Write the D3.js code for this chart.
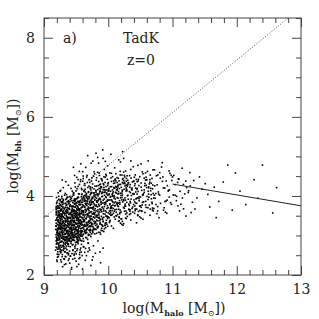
<!DOCTYPE html>
<html>
<head>
<meta charset="utf-8">
<script src="https://cdn.jsdelivr.net/npm/d3@7"></script>
<style>
  body { margin: 0; background: #fff; }
  text { font-family: "DejaVu Serif", "Liberation Serif", serif; fill: #222; }
</style>
</head>
<body>
<script>
// log(M_halo), log(M_bh) pairs
var haloBh = [
  [9.21,3.12],[9.33,2.87],[9.25,3.55],[9.38,3.21],[9.19,2.96],[9.29,3.78],[9.36,3.44],[9.23,2.71],[9.31,3.09],[9.27,3.63],
  [9.35,2.94],[9.22,3.37],[9.39,3.69],[9.26,3.01],[9.32,3.52],[9.2,3.84],[9.37,2.78],[9.24,3.29],[9.3,2.62],[9.34,3.91],
  [9.28,3.17],[9.21,3.46],[9.36,3.05],[9.25,2.83],[9.33,3.71],[9.19,3.23],[9.38,3.36],[9.27,2.95],[9.31,3.58],[9.23,3.99],
  [9.35,3.26],[9.29,2.74],[9.22,3.62],[9.37,3.13],[9.26,3.41],[9.32,2.89],[9.2,3.07],[9.39,3.82],[9.24,3.51],[9.3,3.33],
  [9.34,2.68],[9.28,3.94],[9.21,2.91],[9.36,3.57],[9.25,3.19],[9.33,3.03],[9.19,3.66],[9.38,2.99],[9.27,3.74],[9.31,3.24],
  [9.23,3.15],[9.35,3.48],[9.29,3.86],[9.22,2.79],[9.37,3.31],[9.26,2.58],[9.32,3.67],[9.2,3.39],[9.39,3.11],[9.24,3.7],
  [9.3,2.97],[9.34,3.38],[9.28,2.85],[9.21,3.75],[9.36,3.85],[9.25,3.43],[9.33,3.16],[9.19,2.86],[9.38,2.73],[9.27,3.27],
  [9.31,3.81],[9.23,3.34],[9.35,3.6],[9.29,3.07],[9.22,3.19],[9.37,3.97],[9.26,3.65],[9.32,3.22],[9.2,2.69],[9.39,3.53],
  [9.24,2.92],[9.3,3.47],[9.34,3.14],[9.28,3.55],[9.21,3.28],[9.36,2.83],[9.25,3.88],[9.33,2.77],[9.19,3.52],[9.38,3.45],
  [9.27,3.09],[9.31,2.66],[9.23,3.59],[9.35,3.77],[9.29,3.35],[9.22,3.05],[9.37,3.62],[9.26,3.22],[9.32,4.02],[9.2,3.15],
  [9.39,2.9],[9.24,3.81],[9.3,3.18],[9.34,3.56],[9.28,2.63],[9.21,3.68],[9.36,3.25],[9.25,2.98],[9.33,3.42],[9.19,3.31],
  [9.38,3.88],[9.27,3.49],[9.31,2.93],[9.23,3.24],[9.35,3.1],[9.29,3.61],[9.22,2.88],[9.37,3.4],[9.26,3.77],[9.32,3.3],
  [9.2,3.57],[9.39,3.27],[9.24,3.04],[9.3,3.89],[9.34,2.81],[9.28,3.44],[9.21,3.01],[9.36,3.71],[9.25,3.63],[9.33,2.59],
  [9.19,3.73],[9.38,3.06],[9.27,3.85],[9.31,3.37],[9.23,2.76],[9.35,3.93],[9.29,3.13],[9.22,3.5],[9.37,2.96],[9.26,3.34],
  [9.42,3.21],[9.51,2.94],[9.47,3.63],[9.58,3.35],[9.44,3.02],[9.55,3.79],[9.49,3.47],[9.41,2.85],[9.53,3.14],[9.46,3.88],
  [9.57,3.06],[9.43,3.52],[9.5,3.29],[9.59,3.71],[9.45,2.77],[9.52,3.58],[9.48,3.1],[9.56,2.91],[9.4,3.66],[9.54,3.41],
  [9.47,2.99],[9.58,3.84],[9.44,3.37],[9.51,3.68],[9.42,3.95],[9.55,3.23],[9.49,2.82],[9.46,3.44],[9.53,3.97],[9.41,3.17],
  [9.57,3.55],[9.43,2.93],[9.5,3.76],[9.59,3.12],[9.45,3.6],[9.52,3.04],[9.48,3.33],[9.56,3.49],[9.4,3.27],[9.54,2.87],
  [9.47,3.81],[9.58,2.98],[9.44,3.69],[9.51,3.39],[9.42,3.08],[9.55,4.05],[9.49,3.54],[9.46,3.15],[9.53,2.79],[9.41,3.43],
  [9.57,3.28],[9.43,3.74],[9.5,2.97],[9.59,3.59],[9.45,3.25],[9.52,3.86],[9.48,2.72],[9.56,3.67],[9.4,3.01],[9.54,3.53],
  [9.47,3.36],[9.58,3.18],[9.44,2.89],[9.51,3.13],[9.42,3.57],[9.55,2.95],[9.49,3.92],[9.46,3.62],[9.53,3.31],[9.41,3.78],
  [9.57,3.89],[9.43,3.19],[9.5,3.45],[9.59,2.86],[9.45,3.48],[9.52,3.22],[9.48,3.72],[9.56,3.11],[9.4,2.92],[9.54,3.65],
  [9.47,3.07],[9.58,3.46],[9.44,3.99],[9.51,2.83],[9.42,3.34],[9.55,3.52],[9.49,3.16],[9.46,2.96],[9.53,3.7],[9.41,3.58],
  [9.57,3.37],[9.43,3.05],[9.5,3.61],[9.59,3.26],[9.45,3.83],[9.52,2.9],[9.48,3.5],[9.56,3.77],[9.4,3.44],[9.54,3.09],
  [9.47,3.24],[9.58,3.62],[9.44,3.14],[9.51,3.51],[9.42,2.8],[9.55,3.38],[9.49,3.03],[9.46,3.73],[9.53,3.43],[9.41,3.91],
  [9.57,2.99],[9.43,3.64],[9.5,3.2],[9.59,3.93],[9.45,3.0],[9.52,3.47],[9.48,3.87],[9.56,3.3],[9.4,3.75],[9.54,3.2],
  [9.47,3.56],[9.58,3.03],[9.44,3.46],[9.51,3.82],[9.42,3.11],[9.55,3.64],[9.49,3.32],[9.46,2.88],[9.53,3.06],[9.41,3.35],
  [9.62,3.38],[9.71,3.12],[9.67,3.81],[9.78,3.55],[9.64,3.24],[9.75,3.97],[9.69,3.66],[9.61,3.02],[9.73,3.33],[9.66,4.06],
  [9.77,3.19],[9.63,3.71],[9.7,3.47],[9.79,3.89],[9.65,2.95],[9.72,3.76],[9.68,3.28],[9.76,3.07],[9.6,3.84],[9.74,3.6],
  [9.67,3.16],[9.78,4.02],[9.64,3.52],[9.71,3.86],[9.62,4.12],[9.75,3.41],[9.69,3.0],[9.66,3.62],[9.73,4.15],[9.61,3.35],
  [9.77,3.73],[9.63,3.1],[9.7,3.93],[9.79,3.3],[9.65,3.78],[9.72,3.22],[9.68,3.51],[9.76,3.67],[9.6,3.45],[9.74,3.04],
  [9.67,3.99],[9.78,3.15],[9.64,3.87],[9.71,3.57],[9.62,3.26],[9.75,4.21],[9.69,3.72],[9.66,3.33],[9.73,2.97],[9.61,3.61],
  [9.77,3.46],[9.63,3.92],[9.7,3.14],[9.79,3.77],[9.65,3.43],[9.72,4.03],[9.68,2.9],[9.76,3.85],[9.6,3.19],[9.74,3.7],
  [9.67,3.54],[9.78,3.36],[9.64,3.07],[9.71,3.31],[9.62,3.75],[9.75,3.13],[9.69,4.09],[9.66,3.8],[9.73,3.49],[9.61,3.96],
  [9.77,4.07],[9.63,3.37],[9.7,3.63],[9.79,3.04],[9.65,3.66],[9.72,3.4],[9.68,3.9],[9.76,3.29],[9.6,3.1],[9.74,3.83],
  [9.67,3.25],[9.78,3.64],[9.64,4.17],[9.71,3.01],[9.62,3.52],[9.75,3.7],[9.69,3.34],[9.66,3.14],[9.73,3.88],[9.61,3.76],
  [9.77,3.55],[9.63,3.23],[9.7,3.79],[9.79,3.44],[9.65,4.0],[9.72,3.08],[9.68,3.68],[9.76,3.95],[9.6,3.62],[9.74,3.27],
  [9.82,3.51],[9.91,3.25],[9.87,3.94],[9.98,3.68],[9.84,3.37],[9.95,4.1],[9.89,3.79],[9.81,3.15],[9.93,3.46],[9.86,4.19],
  [9.97,3.32],[9.83,3.84],[9.9,3.6],[9.99,4.02],[9.85,3.08],[9.92,3.89],[9.88,3.41],[9.96,3.2],[9.8,3.97],[9.94,3.73],
  [9.87,3.29],[9.98,4.15],[9.84,3.65],[9.91,3.99],[9.82,4.25],[9.95,3.54],[9.89,3.13],[9.86,3.75],[9.93,4.28],[9.81,3.48],
  [9.97,3.86],[9.83,3.23],[9.9,4.06],[9.99,3.43],[9.85,3.91],[9.92,3.35],[9.88,3.64],[9.96,3.8],[9.8,3.58],[9.94,3.17],
  [9.87,4.12],[9.98,3.28],[9.84,4.0],[9.91,3.7],[9.82,3.39],[9.95,4.34],[9.89,3.85],[9.86,3.46],[9.93,3.1],[9.81,3.74],
  [9.97,3.59],[9.83,4.05],[9.9,3.27],[9.99,3.9],[9.85,3.56],[9.92,4.16],[9.88,3.03],[9.96,3.98],[9.8,3.32],[9.94,3.83],
  [9.87,3.67],[9.98,3.49],[9.84,3.2],[9.91,3.44],[9.82,3.88],[9.95,3.26],[9.89,4.22],[9.86,3.93],[9.93,3.62],[9.81,4.09],
  [9.23,2.52],[9.31,2.41],[9.27,2.33],[9.36,2.56],[9.21,2.45],[9.29,2.21],[9.41,2.48],[9.45,2.62],[9.34,2.28],[9.25,2.6],
  [9.38,2.37],[9.47,2.53],[9.52,2.66],[9.56,2.44],[9.43,2.19],[9.5,2.35],[9.58,2.58],[9.62,2.71],[9.66,2.49],[9.54,2.27],
  [9.71,2.63],[9.75,2.38],[9.69,2.8],[9.8,2.55],[9.84,2.86],[9.88,2.31],[9.77,2.74],[9.2,2.38],[9.33,2.47],[9.4,2.3],
  [9.48,2.42],[9.6,2.15],[9.92,2.68],[9.73,2.24],[9.18,2.63],
  [9.22,4.08],[9.3,4.21],[9.26,4.14],[9.35,4.03],[9.38,4.27],[9.44,4.12],[9.48,4.33],[9.42,4.19],[9.53,4.24],[9.57,4.41],
  [9.46,4.06],[9.51,4.47],[9.59,4.16],[9.63,4.31],[9.67,4.52],[9.61,4.44],[9.7,4.25],[9.74,4.38],[9.78,4.61],[9.65,4.72],
  [9.72,4.19],[9.82,4.46],[9.86,4.58],[9.9,4.42],[9.94,4.67],[9.97,4.51],[9.85,4.83],[9.92,4.95],[9.76,4.88],[9.68,5.02],
  [9.99,4.76],[9.81,5.08],[9.55,4.62],[9.34,4.36],[9.88,4.3],
  [10.02,3.62],[10.11,3.41],[10.07,4.07],[10.18,3.83],[10.04,3.51],[10.15,4.23],[10.09,3.94],[10.21,3.28],[10.13,3.66],[10.26,4.31],
  [10.17,3.47],[10.03,3.97],[10.1,3.75],[10.29,4.14],[10.05,3.24],[10.22,4.02],[10.08,3.56],[10.16,3.36],[10.0,4.12],[10.24,3.88],
  [10.27,3.44],[10.28,4.27],[10.14,3.78],[10.01,4.19],[10.12,4.38],[10.25,3.69],[10.19,3.31],[10.06,3.87],[10.23,4.44],[10.2,3.59],
  [10.07,3.99],[10.03,3.38],[10.1,4.2],[10.29,3.57],[10.15,4.05],[10.12,3.5],[10.18,3.79],[10.26,3.95],[10.04,3.72],[10.24,3.3],
  [10.17,4.29],[10.28,3.43],[10.14,4.15],[10.11,3.85],[10.02,3.54],[10.25,4.52],[10.09,4.01],[10.06,3.63],[10.23,3.26],[10.21,3.9],
  [10.27,3.74],[10.13,4.22],[10.2,3.42],[10.19,4.07],[10.05,3.7],[10.22,4.34],[10.08,3.18],[10.16,4.11],[10.0,3.47],[10.14,3.96],
  [10.27,4.63],[10.1,4.71],[10.19,4.86],[10.05,4.57],[10.24,4.95],
  [10.32,3.79],[10.41,3.56],[10.37,4.2],[10.48,3.98],[10.34,3.65],[10.45,4.36],[10.39,4.06],[10.51,3.44],[10.43,3.82],[10.56,4.45],
  [10.47,3.61],[10.33,4.11],[10.4,3.9],[10.59,4.27],[10.35,3.39],[10.52,4.14],[10.38,3.72],[10.46,3.52],[10.3,4.29],[10.54,4.02],
  [10.57,3.58],[10.58,4.4],[10.44,3.94],[10.31,4.33],[10.42,4.53],[10.55,3.85],[10.49,3.47],[10.36,4.01],[10.53,4.61],[10.5,3.75],
  [10.37,4.15],[10.33,3.53],[10.4,4.37],[10.59,3.71],[10.45,4.19],[10.42,3.67],[10.48,3.93],[10.56,4.09],[10.34,3.86],[10.54,3.41],
  [10.47,4.42],[10.39,4.74],[10.51,4.81],[10.58,4.58],[10.35,4.67],[10.44,3.32],[10.52,3.62],[10.41,4.26],
  [10.62,3.91],[10.71,3.68],[10.67,4.32],[10.78,4.1],[10.64,3.77],[10.85,4.48],[10.69,4.18],[10.91,3.56],[10.73,3.94],[10.96,4.57],
  [10.77,3.73],[10.63,4.23],[10.8,4.02],[10.99,4.39],[10.65,3.51],[10.92,4.26],[10.68,3.84],[10.86,3.64],[10.6,4.41],[10.94,4.14],
  [10.87,3.7],[10.98,4.52],[10.74,4.06],[10.81,4.45],[10.72,4.66],[10.95,3.97],[10.89,3.59],[10.66,4.13],[10.83,4.73],[10.9,3.87],
  [10.76,4.28],[10.7,3.62],[10.84,4.84],[10.97,3.83],[10.61,4.62],[10.79,3.45],[10.88,4.2],[10.75,4.51],
  [11.04,4.02],[11.13,3.79],[11.09,4.43],[11.22,4.21],[11.06,3.88],[11.27,4.59],[11.17,4.29],[11.35,3.67],[11.19,4.05],[11.42,4.48],
  [11.31,3.84],[11.08,4.34],[11.25,4.13],[11.51,4.31],[11.11,3.62],[11.46,4.17],[11.38,3.95],[11.29,3.58],[11.02,4.52],[11.55,4.04],
  [11.15,4.7],[11.33,4.39],[11.58,3.72],[11.21,3.49],
  [11.65,4.22],[11.72,3.86],[11.86,4.78],[11.79,4.35],[11.93,3.64],[12.05,4.12],[12.14,3.78],[12.27,4.41],[12.4,4.78],[12.56,3.57],
  [11.68,3.45],[12.33,3.94],[11.98,4.58],[12.62,4.21],
  [9.243,3.318],[9.197,2.874],[9.412,3.563],[9.286,3.041],[9.354,3.782],[9.218,3.497],[9.447,2.963],[9.305,3.627],[9.262,2.752],[9.389,3.205],
  [9.231,3.914],[9.376,2.918],[9.184,3.386],[9.427,3.731],[9.295,3.254],[9.342,2.812],[9.208,3.066],[9.439,3.418],[9.271,3.843],[9.318,3.132],
  [9.253,2.647],[9.401,3.981],[9.192,3.612],[9.364,3.347],[9.226,2.993],[9.418,2.846],[9.279,3.522],[9.331,4.063],[9.214,3.176],[9.445,3.286],
  [9.299,2.901],[9.357,3.649],[9.236,3.751],[9.393,3.097],[9.188,3.021],[9.322,3.436],[9.266,3.188],[9.434,3.877],[9.249,4.118],[9.381,2.786],
  [9.203,2.818],[9.347,3.512],[9.289,3.703],[9.423,3.162],[9.257,3.376],[9.311,2.712],[9.196,3.807],[9.406,3.462],[9.274,2.937],[9.368,3.228],
  [9.229,3.581],[9.441,3.039],[9.302,3.912],[9.351,3.073],[9.212,3.269],[9.387,3.674],[9.268,3.468],[9.326,2.872],[9.183,3.154],[9.429,3.594],
  [9.241,2.889],[9.397,3.353],[9.283,3.116],[9.336,3.814],[9.221,3.691],[9.414,2.953],[9.292,3.297],[9.358,3.964],[9.207,2.934],[9.448,3.742],
  [9.259,3.242],[9.373,3.019],[9.235,3.457],[9.317,3.566],[9.193,2.781],[9.421,3.281],[9.277,3.989],[9.341,3.182],[9.247,3.035],[9.385,3.799],
  [9.216,3.728],[9.432,3.124],[9.306,2.786],[9.361,3.416],[9.264,3.654],[9.329,3.268],[9.189,3.572],[9.409,3.043],[9.282,3.396],[9.346,2.927],
  [9.233,3.207],[9.443,3.524],[9.297,3.581],[9.378,3.852],[9.224,2.986],[9.314,3.171],[9.256,3.907],[9.417,3.377],[9.199,3.438],[9.352,3.659],
  [9.273,2.844],[9.392,2.997],[9.238,3.536],[9.335,3.338],[9.211,3.881],[9.436,3.627],[9.291,3.023],[9.366,3.112],[9.251,3.483],[9.403,3.742],
  [9.186,3.247],[9.324,2.961],[9.269,3.286],[9.426,3.933],[9.244,3.694],[9.383,3.444],[9.205,3.109],[9.357,2.857],[9.287,3.829],[9.411,3.188],
  [9.228,2.721],[9.339,3.612],[9.262,3.147],[9.446,2.893],[9.309,3.453],[9.371,3.587],[9.195,3.962],[9.419,3.312],[9.278,3.667],[9.332,3.043],
  [9.217,3.396],[9.391,2.864],[9.254,3.771],[9.348,3.204],[9.201,2.916],[9.437,3.488],[9.294,3.723],[9.362,3.361],[9.239,3.087],[9.404,3.859],
  [9.272,3.523],[9.327,2.894],[9.191,3.697],[9.428,3.067],[9.284,3.197],[9.344,3.762],[9.219,3.344],[9.379,3.276],[9.261,2.834],[9.398,3.552],
  [9.462,3.371],[9.583,3.082],[9.517,3.742],[9.698,3.503],[9.493,2.967],[9.641,3.889],[9.556,3.319],[9.722,3.157],[9.478,3.603],[9.609,2.921],
  [9.537,3.961],[9.684,3.668],[9.456,3.194],[9.592,3.452],[9.741,3.786],[9.524,3.087],[9.663,3.291],[9.501,3.826],[9.617,3.618],[9.572,2.873],
  [9.706,3.974],[9.468,3.502],[9.548,3.247],[9.653,3.112],[9.733,3.424],[9.489,3.712],[9.601,3.779],[9.529,2.994],[9.676,3.853],[9.563,3.556],
  [9.458,2.902],[9.624,3.348],[9.511,3.423],[9.714,3.247],[9.586,4.032],[9.472,3.268],[9.645,3.584],[9.541,3.677],[9.692,3.031],[9.505,3.149],
  [9.612,3.211],[9.727,3.697],[9.483,3.877],[9.568,3.394],[9.659,3.952],[9.531,3.308],[9.749,3.546],[9.597,2.983],[9.466,3.651],[9.637,3.721],
  [9.519,2.856],[9.701,3.373],[9.552,3.842],[9.671,3.183],[9.497,3.477],[9.628,3.468],[9.575,3.119],[9.737,3.918],[9.461,3.027],[9.588,3.633],
  [9.534,3.524],[9.686,3.552],[9.509,3.927],[9.648,3.052],[9.719,3.128],[9.476,3.382],[9.604,3.897],[9.559,3.232],[9.667,3.759],[9.521,3.646],
  [9.743,3.312],[9.594,3.283],[9.487,3.143],[9.633,4.013],[9.546,3.031],[9.711,3.827],[9.579,3.701],[9.453,3.735],[9.656,3.421],[9.514,3.571],
  [9.682,3.273],[9.566,3.877],[9.728,3.601],[9.491,3.322],[9.619,3.161],[9.539,3.407],[9.695,4.107],[9.471,2.951],[9.606,3.518],[9.581,3.978],
  [9.657,3.631],[9.503,3.053],[9.732,3.482],[9.551,3.593],[9.643,3.814],[9.479,3.789],[9.614,3.034],[9.527,3.263],[9.708,3.694],[9.569,3.172],
  [9.459,3.428],[9.674,3.517],[9.544,3.781],[9.623,3.402],[9.747,3.858],[9.496,3.617],[9.591,3.337],[9.516,2.912],[9.679,3.941],[9.557,3.467],
  [9.635,3.277],[9.484,3.558],[9.713,3.366],[9.599,3.727],[9.532,3.137],[9.666,3.073],[9.474,3.924],[9.626,3.869],[9.561,3.011],[9.724,3.786],
  [9.508,3.381],[9.651,3.233],[9.587,3.554],[9.739,3.237],[9.465,3.258],[9.608,3.413],[9.536,3.842],[9.689,3.334],[9.494,3.019],[9.642,3.652],
  [9.577,3.309],[9.703,3.582],[9.525,3.732],[9.661,3.874],[9.482,3.174],[9.615,3.571],[9.549,2.946],[9.731,4.061],[9.512,3.523],[9.668,3.468],
  [9.596,3.106],[9.457,3.553],[9.638,3.132],[9.554,3.667],[9.716,3.441],[9.499,3.806],[9.621,3.955],[9.543,3.361],[9.693,3.216],[9.574,3.789],
  [9.762,3.547],[9.883,3.282],[9.817,3.942],[9.998,3.703],[9.793,3.167],[9.941,4.089],[9.856,3.519],[10.022,3.357],[9.778,3.803],[9.909,3.121],
  [9.837,4.161],[9.984,3.868],[9.756,3.394],[9.892,3.652],[10.041,3.986],[9.824,3.287],[9.963,3.491],[9.801,4.026],[9.917,3.818],[9.872,3.073],
  [10.006,4.174],[9.768,3.702],[9.848,3.447],[9.953,3.312],[10.033,3.624],[9.789,3.912],[9.901,3.979],[9.829,3.194],[9.976,4.053],[9.863,3.756],
  [9.758,3.102],[9.924,3.548],[9.811,3.623],[10.014,3.447],[9.886,4.232],[9.772,3.468],[9.945,3.784],[9.841,3.877],[9.992,3.231],[9.805,3.349],
  [9.912,3.411],[10.027,3.897],[9.783,4.077],[9.868,3.594],[9.959,4.152],[9.831,3.508],[10.049,3.746],[9.897,3.183],[9.766,3.851],[9.937,3.921],
  [9.819,3.056],[10.001,3.573],[9.852,4.042],[9.971,3.383],[9.797,3.677],[9.928,3.668],[9.875,3.319],[10.037,4.118],[9.761,3.227],[9.888,3.833],
  [9.834,3.724],[9.986,3.752],[9.809,4.127],[9.948,3.252],[10.019,3.328],[9.776,3.582],[9.904,4.097],[9.859,3.432],[9.967,3.959],[9.821,3.846],
  [10.043,3.512],[9.894,3.483],[9.787,3.343],[9.933,4.213],[9.846,3.231],[10.011,4.027],[9.879,3.901],[9.753,3.935],[9.956,3.621],[9.814,3.771],
  [9.982,3.473],[9.866,4.077],[10.028,3.801],[9.791,3.522],[9.919,3.361],[9.839,3.607],[9.995,4.307],[9.771,3.151],[9.906,3.718],[9.881,4.178],
  [9.957,3.831],[9.803,3.253],[10.032,3.682],[9.851,3.793],[9.943,4.014],[9.779,3.989],[9.914,3.234],[9.827,3.463],[10.008,3.894],[9.869,3.372],
  [10.071,3.847],[10.183,3.582],[10.117,4.242],[10.298,4.003],[10.093,3.467],[10.241,4.389],[10.156,3.819],[10.322,3.657],[10.078,4.103],[10.209,3.421],
  [10.137,4.461],[10.284,4.168],[10.056,3.694],[10.192,3.952],[10.341,4.286],[10.124,3.587],[10.263,3.791],[10.101,4.326],[10.217,4.118],[10.172,3.373],
  [10.406,4.474],[10.068,4.002],[10.148,3.747],[10.253,3.612],[10.433,3.924],[10.089,4.212],[10.301,4.279],[10.129,3.494],[10.376,4.353],[10.163,4.056],
  [10.458,3.502],[10.224,3.848],[10.111,3.923],[10.414,3.747],[10.186,4.532],[10.072,3.768],[10.345,4.084],[10.141,4.177],[10.492,3.631],[10.105,3.649],
  [10.512,3.711],[10.427,4.197],[10.083,4.377],[10.268,3.894],[10.559,4.152],[10.131,3.808],[10.449,4.046],[10.297,3.483],[10.066,4.151],[10.337,4.221],
  [10.219,3.356],[10.501,3.973],[10.252,4.342],[10.371,3.683],[10.097,3.977],[10.528,3.768],[10.275,3.619],[10.437,4.418],[10.061,3.527],[10.288,4.133],
  [10.534,4.024],[10.386,4.052],[10.109,4.427],[10.348,3.552],[10.419,3.628],[10.176,3.882],[10.304,4.397],[10.159,3.732],[10.567,4.259],[10.221,4.146],
  [10.443,3.812],[10.394,3.783],[10.187,3.643],[10.333,4.513],[10.146,3.531],[10.511,4.327],[10.279,4.201],[10.053,4.235],[10.356,3.921],[10.214,4.071],
  [10.582,3.773],[10.466,4.377],[10.428,4.101],[10.091,3.822],[10.319,3.661],[10.239,3.907],[10.595,4.407],[10.171,3.451],[10.306,4.018],[10.481,3.878],
  [10.627,4.047],[10.743,3.782],[10.681,4.442],[10.858,4.203],[10.653,3.667],[10.801,4.589],[10.716,4.019],[10.882,3.857],[10.638,4.303],[10.769,3.621],
  [10.697,4.661],[10.844,4.368],[10.916,3.894],[10.952,4.152],[11.041,4.286],[10.984,3.787],[11.063,3.991],[11.101,4.426],[11.117,4.118],[11.172,3.673],
  [11.206,4.374],[10.628,4.202],[10.708,3.947],[10.813,3.812],[10.933,4.124],[10.649,4.412],[11.001,4.479],[10.689,3.694],[11.276,4.253],[10.723,4.256],
  [10.758,3.552],[10.784,4.048],[11.011,4.023],[11.154,3.947],[10.946,4.632],[10.632,3.968],[11.245,4.084],[10.901,4.377],[10.772,4.531],[11.085,3.749],
  [9.206,2.341],[9.318,2.263],[9.427,2.147],[9.512,2.213],[9.643,2.372],[9.762,2.462],[9.871,2.583],[9.382,2.544],[9.553,2.517],[9.684,2.593],
  [9.284,4.403],[9.476,4.518],[9.602,4.613],[9.733,4.827],[9.836,4.974],[9.954,4.873],[10.042,5.052],[10.163,4.912],[10.352,4.886],[10.224,5.121],
  [9.573,4.811],[9.458,4.723],[9.914,5.164],[10.462,4.773],[10.621,4.887],
  [9.214,2.587],[9.347,2.732],[9.283,2.463],[9.426,2.851],[9.198,2.794],[9.512,2.618],[9.365,2.554],[9.243,2.917],[9.468,2.497],[9.304,2.826],
  [9.583,2.773],[9.226,2.658],[9.391,2.412],[9.537,2.884],[9.275,2.703],[9.452,2.637],[9.332,2.961],[9.618,2.853],[9.207,2.527],[9.493,2.762],
  [9.356,2.639],[9.261,2.383],[9.409,2.716],[9.556,2.569],[9.291,2.934],[9.648,2.672],[9.237,2.812],[9.436,2.542],[9.321,2.581],[9.523,2.947],
  [9.189,2.703],[9.382,2.867],[9.475,2.871],[9.269,2.611],[9.594,2.491],[9.341,2.457],[9.251,2.736],[9.417,2.925],[9.501,2.533],[9.308,2.674],
  [9.663,2.941],[9.223,2.469],[9.372,2.783],[9.449,2.401],[9.286,2.517],[9.571,2.681],[9.197,2.876],[9.397,2.604],[9.331,2.802],[9.544,2.416],
  [9.259,2.561],[9.483,2.677],[9.634,2.573],[9.209,2.651],[9.358,2.893],[9.441,2.762],[9.298,2.742],[9.527,2.831],[9.612,2.716],[9.233,2.947],
  [9.686,2.812],[9.378,2.509],[9.461,2.947],[9.317,2.398],[9.563,2.634],[9.248,2.683],[9.413,2.473],[9.702,2.683],[9.269,2.851],[9.487,2.586],
  [9.463,4.023],[9.584,4.187],[9.712,4.342],[9.847,4.263],[9.953,4.471],[10.084,4.317],[10.213,4.528],[9.521,3.948],[9.643,4.096],[9.778,4.178],
  [9.906,4.383],[10.032,4.232],[10.157,4.446],[10.281,4.372],[9.497,4.127],[9.617,3.992],[9.745,4.457],[9.874,4.121],[9.991,4.263],[10.118,4.563],
  [10.246,4.168],[9.552,4.291],[9.681,4.213],[9.813,4.396],[9.938,4.153],[10.067,4.487],[10.192,4.291],[9.476,3.893],[9.602,4.372],[9.733,4.082],
  [9.862,4.517],[9.987,4.421],[10.113,4.092],[10.239,4.602],[9.539,4.053],[9.664,4.478],[9.793,4.247],[9.923,4.312],[10.049,4.367],[10.174,4.187],
  [10.294,4.509],[9.487,4.228],[9.628,4.143],[9.756,4.302],[9.889,4.436],[10.011,4.128],[10.138,4.338],[10.262,4.253],[9.568,4.364],[9.697,3.982],
  [9.826,4.033],[9.962,4.547],[10.092,4.193],[10.222,4.417],[9.513,4.182],[9.637,4.264],[9.768,4.503],[9.896,4.227],[10.024,4.582],[10.151,4.271],
  [10.276,4.126],[9.591,4.048],[9.721,4.227],[9.851,4.363],[9.975,4.076],[10.103,4.402],[10.231,4.316],[9.548,3.867],[9.674,4.338],[9.806,4.142],
  [9.933,4.486],[10.061,4.043],[10.186,4.621],[9.459,4.081],[9.611,4.503],[9.744,4.088],[9.868,4.282],[10.002,4.338],[10.127,4.152],[10.257,4.481],
  [9.531,4.413],[9.658,4.037],[9.789,4.556],[9.918,4.087],[10.043,4.456],[10.168,4.381],[10.298,4.242],[9.701,4.412],[9.834,4.597],[9.965,4.236],
  [10.312,3.917],[10.447,4.163],[10.583,3.862],[10.694,4.276],[10.356,4.452],[10.488,3.741],[10.621,4.117],[10.023,3.781],[10.164,3.662],[10.289,3.837],
  [10.418,4.308],[10.546,4.052],[10.672,3.927],[10.381,3.592],[10.512,4.221],[10.647,4.346],[10.093,3.612],[10.237,3.706],[10.362,4.173],[10.491,4.487],
  [10.617,3.702],[10.052,3.902],[10.197,4.013],[10.328,3.758],[10.459,3.952],[10.589,4.474],[10.683,3.806],[10.139,3.832],[10.271,3.542],[10.403,4.046],
  [10.532,3.836],[10.662,4.192],[10.015,4.052],[10.178,3.548],[10.317,4.336],[10.444,3.668],[10.571,4.318],[10.699,4.062],[10.081,3.682],[10.214,3.962],
  [10.346,3.823],[10.477,4.263],[10.603,3.987],[10.126,4.072],[10.258,3.747],[10.391,4.371],[10.522,3.612],[10.654,4.528],[10.037,3.571],[10.203,4.218],
  [10.337,3.612],[10.465,4.112],[10.597,4.212],[10.688,3.642],[10.152,3.943],[10.283,4.442],[10.412,3.847],[10.541,4.561],[10.668,4.032],[10.107,3.757],
  [9.236,3.271],[9.353,3.117],[9.287,3.486],[9.421,3.383],[9.314,3.024],[9.462,3.157],[9.258,3.613],[9.389,3.542],[9.503,3.292],[9.227,3.043],
  [9.337,3.358],[9.446,3.642],[9.279,3.211],[9.406,2.963],[9.528,3.452],[9.249,3.427],[9.372,3.692],[9.484,3.022],[9.302,3.574],[9.431,3.247],
  [9.541,3.186],[9.267,3.079],[9.391,3.307],[9.515,3.652],[9.223,3.532],[9.349,2.974],[9.473,3.437],[9.296,3.338],[9.418,3.528],[9.536,2.987],
  [9.244,3.166],[9.366,3.467],[9.492,3.211],[9.321,3.253],[9.439,3.082],[9.547,3.553],[9.272,3.502],[9.397,3.163],[9.518,3.108],[9.229,3.383],
  [9.343,3.627],[9.457,3.331],[9.284,2.988],[9.412,3.441],[9.532,3.367],[9.262,3.298],[9.381,3.052],[9.497,3.563],[9.311,3.682],[9.427,2.991]
];

// dotted relation and solid fit at the high-mass end
var dottedLine = [[9, 3.45], [12.8, 8.5]];
var fitLine = [[11, 4.30], [13, 3.75]];

var xMajor = [9, 10, 11, 12, 13];
var yMajor = [2, 4, 6, 8];

var W = 319, H = 319;
var margin = {top: 18, right: 18, bottom: 44, left: 44},
    width = W - margin.left - margin.right,
    height = H - margin.top - margin.bottom;

var svg = d3.select("body").append("svg")
  .attr("width", W)
  .attr("height", H);

var chart = svg.append("g")
  .attr("transform", "translate(" + margin.left + "," + margin.top + ")");

var x = d3.scaleLinear().domain([9, 13]).range([0, width]);
var y = d3.scaleLinear().domain([2, 8.5]).range([height, 0]);

var xMinor = d3.range(9, 13.001, 0.2).filter(v => Math.abs(v - Math.round(v)) > 0.01);
var yMinor = d3.range(2, 8.501, 0.5).filter(v => Math.abs(v % 2) > 0.01);

// points
chart.append("g").selectAll("rect")
  .data(haloBh)
  .enter().append("rect")
  .attr("x", d => x(d[0]) - 0.8)
  .attr("y", d => y(d[1]) - 0.8)
  .attr("width", 1.6)
  .attr("height", 1.6)
  .attr("fill", "#000");

var line = d3.line().x(d => x(d[0])).y(d => y(d[1]));

chart.append("path")
  .datum(dottedLine)
  .attr("d", line)
  .attr("fill", "none")
  .attr("stroke", "#222")
  .attr("stroke-width", 0.8)
  .attr("stroke-dasharray", "1,1.8");

chart.append("path")
  .datum(fitLine)
  .attr("d", line)
  .attr("fill", "none")
  .attr("stroke", "#222")
  .attr("stroke-width", 1);

// axes with inward ticks on all four sides
function styleAxis(g) {
  g.selectAll("path.domain").remove();
  g.selectAll("line").attr("stroke", "#444");
  g.selectAll("text").style("font-family", "'DejaVu Serif', serif").style("font-size", "14px").attr("fill", "#222");
}

chart.append("g").attr("transform", "translate(0," + height + ")")
  .call(d3.axisBottom(x).tickValues(xMajor).tickSize(-9).tickPadding(9).tickFormat(d3.format("d")))
  .call(styleAxis);
chart.append("g").attr("transform", "translate(0," + height + ")")
  .call(d3.axisBottom(x).tickValues(xMinor).tickSize(-5).tickFormat(""))
  .call(styleAxis);
chart.append("g")
  .call(d3.axisTop(x).tickValues(xMajor).tickSize(-9).tickFormat(""))
  .call(styleAxis);
chart.append("g")
  .call(d3.axisTop(x).tickValues(xMinor).tickSize(-5).tickFormat(""))
  .call(styleAxis);

chart.append("g")
  .call(d3.axisLeft(y).tickValues(yMajor).tickSize(-9).tickPadding(9).tickFormat(d3.format("d")))
  .call(styleAxis);
chart.append("g")
  .call(d3.axisLeft(y).tickValues(yMinor).tickSize(-5).tickFormat(""))
  .call(styleAxis);
chart.append("g").attr("transform", "translate(" + width + ",0)")
  .call(d3.axisRight(y).tickValues(yMajor).tickSize(-9).tickFormat(""))
  .call(styleAxis);
chart.append("g").attr("transform", "translate(" + width + ",0)")
  .call(d3.axisRight(y).tickValues(yMinor).tickSize(-5).tickFormat(""))
  .call(styleAxis);

chart.append("rect")
  .attr("width", width).attr("height", height)
  .attr("fill", "none").attr("stroke", "#444").attr("stroke-width", 1);

// labels inside the panel
chart.append("text").text("a)")
  .attr("x", 19).attr("y", 25).style("font-size", "14px");
chart.append("text").text("TadK")
  .attr("x", 97).attr("y", 25).style("font-size", "14px").attr("text-anchor", "middle");
chart.append("text").text("z=0")
  .attr("x", 97).attr("y", 47).style("font-size", "14px").attr("text-anchor", "middle");

// axis titles
var xt = svg.append("text")
  .attr("x", 174).attr("y", 313)
  .attr("text-anchor", "middle")
  .style("font-size", "14px");
xt.append("tspan").text("log(M");
xt.append("tspan").text("halo").attr("dy", 2.5).style("font-size", "8px").style("font-weight", "bold");
xt.append("tspan").text(" [M").attr("dy", -2.5);
xt.append("tspan").text("⊙").attr("dy", 2.5).style("font-size", "8px");
xt.append("tspan").text("])").attr("dy", -2.5);

var yt = svg.append("text")
  .attr("transform", "translate(18,146) rotate(-90)")
  .attr("text-anchor", "middle")
  .style("font-size", "14px");
yt.append("tspan").text("log(M");
yt.append("tspan").text("bh").attr("dy", 2.5).style("font-size", "8px").style("font-weight", "bold");
yt.append("tspan").text(" [M").attr("dy", -2.5);
yt.append("tspan").text("⊙").attr("dy", 2.5).style("font-size", "8px");
yt.append("tspan").text("])").attr("dy", -2.5);
</script>
</body>
</html>
